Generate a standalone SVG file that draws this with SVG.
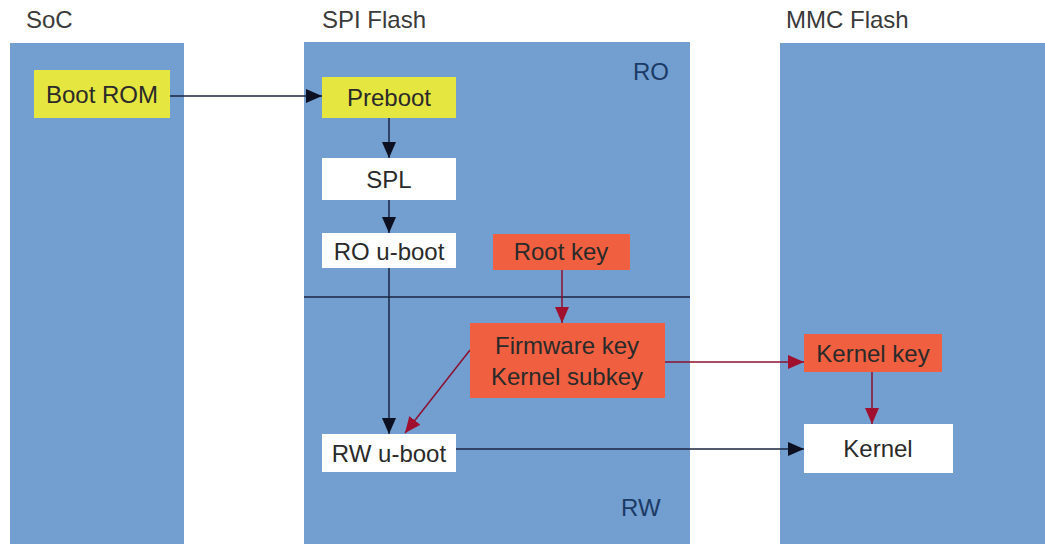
<svg xmlns="http://www.w3.org/2000/svg" width="1045" height="544" viewBox="0 0 1045 544">
<style>
.col{fill:#729fcf;}
.title{font-family:"Liberation Sans",Arial,sans-serif;font-size:24px;fill:#3a3a3a;}
.lbl{font-family:"Liberation Sans",Arial,sans-serif;font-size:24px;fill:#2a2a2a;text-anchor:middle;}
.zone{font-family:"Liberation Sans",Arial,sans-serif;font-size:24px;fill:#1c3a66;}
.yel{fill:#e6e640;}
.wht{fill:#ffffff;}
.org{fill:#f06040;}
.blk{stroke:#1a2440;stroke-width:1.5;fill:none;}
.red{stroke:#8c1030;stroke-width:1.5;fill:none;}
</style>
<defs>
<marker id="ab" viewBox="0 0 16 14" refX="16" refY="7" markerWidth="16" markerHeight="14" markerUnits="userSpaceOnUse" orient="auto">
<path d="M0,0 L16,7 L0,14 Z" fill="#0d1020"/>
</marker>
<marker id="ar" viewBox="0 0 16 14" refX="16" refY="7" markerWidth="16" markerHeight="14" markerUnits="userSpaceOnUse" orient="auto">
<path d="M0,0 L16,7 L0,14 Z" fill="#a0102e"/>
</marker>
</defs>
<rect width="1045" height="544" fill="#ffffff"/>
<g id="soc">
<rect class="col" x="10" y="43" width="174" height="501"/>
<text class="title" x="26" y="28">SoC</text>
</g>
<g id="spi">
<rect class="col" x="304" y="42" width="386" height="502"/>
<text class="title" x="322" y="28">SPI Flash</text>
<text class="zone" x="633" y="80">RO</text>
<text class="zone" x="621" y="516">RW</text>
<line x1="304" y1="297" x2="690" y2="297" stroke="#1a2440" stroke-width="1.5"/>
</g>
<g id="mmc">
<rect class="col" x="780" y="43" width="265" height="501"/>
<text class="title" x="786" y="28">MMC Flash</text>
</g>
<g id="connectors">
<line class="blk" x1="170" y1="96" x2="322" y2="96" marker-end="url(#ab)"/>
<line class="blk" x1="389" y1="118" x2="389" y2="158" marker-end="url(#ab)"/>
<line class="blk" x1="389" y1="200" x2="389" y2="233" marker-end="url(#ab)"/>
<line class="blk" x1="389" y1="268" x2="389" y2="434" marker-end="url(#ab)"/>
<line class="red" x1="562" y1="270" x2="562" y2="323" marker-end="url(#ar)"/>
<line class="red" x1="470" y1="350" x2="405" y2="433" marker-end="url(#ar)"/>
<line class="red" x1="665" y1="362" x2="804" y2="362" marker-end="url(#ar)"/>
<line class="red" x1="872" y1="372" x2="872" y2="424" marker-end="url(#ar)"/>
<line class="blk" x1="456" y1="449" x2="804" y2="449" marker-end="url(#ab)"/>
</g>
<g id="bootrom">
<rect class="yel" x="34" y="70" width="136" height="48"/>
<text class="lbl" x="102" y="103">Boot ROM</text>
</g>
<g id="preboot">
<rect class="yel" x="322" y="77" width="134" height="41"/>
<text class="lbl" x="389" y="106">Preboot</text>
</g>
<g id="spl">
<rect class="wht" x="322" y="158" width="134" height="42"/>
<text class="lbl" x="389" y="188">SPL</text>
</g>
<g id="rouboot">
<rect class="wht" x="322" y="233" width="134" height="35"/>
<text class="lbl" x="389" y="260">RO u-boot</text>
</g>
<g id="rootkey">
<rect class="org" x="493" y="234" width="137" height="36"/>
<text class="lbl" x="561" y="260">Root key</text>
</g>
<g id="fwkey">
<rect class="org" x="470" y="323" width="195" height="75"/>
<text class="lbl" x="567" y="354">Firmware key</text>
<text class="lbl" x="567" y="385">Kernel subkey</text>
</g>
<g id="rwuboot">
<rect class="wht" x="322" y="434" width="134" height="38"/>
<text class="lbl" x="389" y="462">RW u-boot</text>
</g>
<g id="kernelkey">
<rect class="org" x="804" y="334" width="138" height="38"/>
<text class="lbl" x="873" y="362">Kernel key</text>
</g>
<g id="kernel">
<rect class="wht" x="804" y="424" width="149" height="49"/>
<text class="lbl" x="878" y="457">Kernel</text>
</g>
</svg>
